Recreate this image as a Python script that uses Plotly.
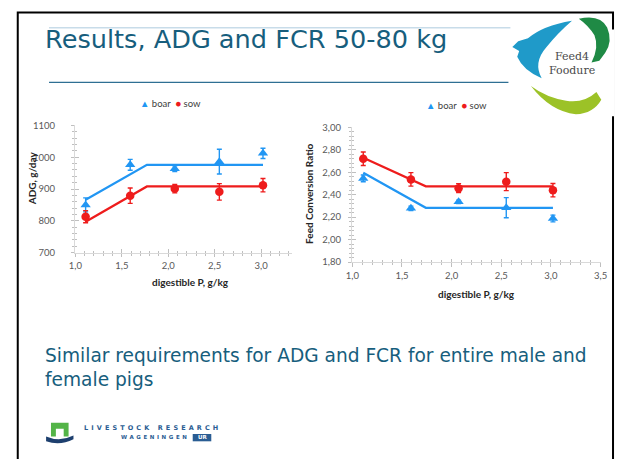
import plotly.graph_objects as go

W, H = 621, 459

# digestible P of the five diets, g/kg
p_levels = [1.11, 1.59, 2.07, 2.55, 3.02]

# average daily gain, g/day (mean and SE)
adg_boar = [850, 976, 964, 986, 1012]
adg_boar_se = [22, 17, 9, 39, 16]
adg_sow = [813, 879, 901, 891, 912]
adg_sow_se = [19, 24, 13, 26, 21]

# broken-line fit for ADG
adg_fit_p = [1.11, 1.77, 3.02]
adg_fit_boar = [866, 976, 976]
adg_fit_sow = [797, 908, 908]

# feed conversion ratio (mean and SE)
fcr_boar = [2.545, 2.278, 2.336, 2.284, 2.188]
fcr_boar_se = [0.03, 0.02, 0.015, 0.09, 0.03]
fcr_sow = [2.72, 2.536, 2.458, 2.516, 2.44]
fcr_sow_se = [0.06, 0.06, 0.04, 0.08, 0.06]

# broken-line fit for FCR
fcr_fit_p = [1.11, 1.74, 3.02]
fcr_fit_boar = [2.595, 2.283, 2.283]
fcr_fit_sow = [2.728, 2.474, 2.474]

# tick values and labels (comma decimal)
adg_x_ticks = [1.0, 1.5, 2.0, 2.5, 3.0]
adg_x_labels = ["1,0", "1,5", "2,0", "2,5", "3,0"]
adg_y_ticks = [700, 800, 900, 1000, 1100]
adg_y_labels = ["700", "800", "900", "1000", "1100"]
fcr_x_ticks = [1.0, 1.5, 2.0, 2.5, 3.0, 3.5]
fcr_x_labels = ["1,0", "1,5", "2,0", "2,5", "3,0", "3,5"]
fcr_y_ticks = [1.8, 2.0, 2.2, 2.4, 2.6, 2.8, 3.0]
fcr_y_labels = ["1,80", "2,00", "2,20", "2,40", "2,60", "2,80", "3,00"]

BLUE = "#2196f3"
RED = "#ee1c1c"
TEAL = "#175e7d"
TICK_FONT = "Liberation Sans Narrow, Lato, sans-serif"
LABEL_FONT = "Lato, sans-serif"


def fx(x):
    return x / W


def fy(y):
    return 1 - y / H


def svg_path(spec):
    """Convert a path written in pixel coordinates to paper coordinates."""
    out, toks, i = [], spec.split(), 0
    while i < len(toks):
        t = toks[i]
        if t.isalpha():
            out.append(t)
            i += 1
        else:
            out.append(f"{fx(float(t)):.5f},{fy(float(toks[i + 1])):.5f}")
            i += 2
    return " ".join(out)


fig = go.Figure()


def fit_line(xs, ys, color, xa, ya):
    fig.add_trace(go.Scatter(x=xs, y=ys, mode="lines", line=dict(color=color, width=2.2),
                             xaxis=xa, yaxis=ya, showlegend=False, hoverinfo="skip"))


def means(xs, ys, se, color, symbol, size, name, xa, ya):
    fig.add_trace(go.Scatter(x=xs, y=ys, mode="markers", name=name,
                             marker=dict(symbol=symbol, size=size, color=color),
                             error_y=dict(type="data", array=se, color=color, thickness=1.4, width=2.5),
                             xaxis=xa, yaxis=ya, showlegend=False))


fit_line(adg_fit_p, adg_fit_boar, BLUE, "x", "y")
fit_line(adg_fit_p, adg_fit_sow, RED, "x", "y")
means(p_levels, adg_boar, adg_boar_se, BLUE, "triangle-up", 9, "boar", "x", "y")
means(p_levels, adg_sow, adg_sow_se, RED, "circle", 8.5, "sow", "x", "y")

fit_line(fcr_fit_p, fcr_fit_boar, BLUE, "x2", "y2")
fit_line(fcr_fit_p, fcr_fit_sow, RED, "x2", "y2")
means(p_levels, fcr_boar, fcr_boar_se, BLUE, "triangle-up", 9, "boar", "x2", "y2")
means(p_levels, fcr_sow, fcr_sow_se, RED, "circle", 8.5, "sow", "x2", "y2")

# empty traces carrying the overlay axes that draw the inner half of the crossing ticks
for xa, ya in (("x3", "y3"), ("x4", "y4")):
    fig.add_trace(go.Scatter(x=[None], y=[None], xaxis=xa, yaxis=ya, showlegend=False, hoverinfo="skip"))

tick_col = "#bfbfbf"
base = dict(showgrid=False, zeroline=False, tickmode="array", tickcolor=tick_col, tickwidth=1,
            tickfont=dict(family=TICK_FONT, size=9.5, color="#595959"), fixedrange=True)


def main_axis(ticks, labels, rng, dom, anchor, tick0, minor_dt, standoff):
    return dict(base, domain=dom, range=rng, anchor=anchor, tickvals=ticks, ticktext=labels,
                showline=True, linecolor="#d9d9d9", linewidth=1, ticks="outside", ticklen=3.5,
                ticklabelstandoff=standoff,
                minor=dict(tickmode="linear", tick0=tick0, dtick=minor_dt, ticks="outside",
                           ticklen=2, tickcolor=tick_col))


def inner_axis(ticks, rng, over, anchor, tick0, minor_dt):
    return dict(base, overlaying=over, range=rng, anchor=anchor, tickvals=ticks,
                showline=False, showticklabels=False, ticks="inside", ticklen=3.5,
                minor=dict(tickmode="linear", tick0=tick0, dtick=minor_dt, ticks="inside",
                           ticklen=2, tickcolor=tick_col))


adg_xr = [1.0, 3.337]
adg_yr = [700, 1100]
fcr_xr = [1.0, 3.5]
fcr_yr = [1.8, 3.0]
adg_xdom = [fx(70), fx(292)]
adg_ydom = [fy(252.7), fy(122.3)]
fcr_xdom = [fx(353.3), fx(607.3)]
fcr_ydom = [fy(262.3), fy(124.3)]

fig.update_layout(
    xaxis=main_axis(adg_x_ticks, adg_x_labels, adg_xr, adg_xdom, "y", 1.0, 0.1, 0),
    yaxis=main_axis(adg_y_ticks, adg_y_labels, adg_yr, adg_ydom, "x", 700, 20, 14),
    xaxis2=main_axis(fcr_x_ticks, fcr_x_labels, fcr_xr, fcr_xdom, "y2", 1.0, 0.1, 1),
    yaxis2=main_axis(fcr_y_ticks, fcr_y_labels, fcr_yr, fcr_ydom, "x2", 1.8, 0.04, 5),
    xaxis3=inner_axis(adg_x_ticks, adg_xr, "x", "y3", 1.0, 0.1),
    yaxis3=inner_axis(adg_y_ticks, adg_yr, "y", "x3", 700, 20),
    xaxis4=inner_axis(fcr_x_ticks, fcr_xr, "x2", "y4", 1.0, 0.1),
    yaxis4=inner_axis(fcr_y_ticks, fcr_yr, "y2", "x4", 1.8, 0.04),
)

annotations = []


def text(x, y, s, size, color, family, xanchor="center", yanchor="middle", angle=0, align="left"):
    annotations.append(dict(x=fx(x), y=fy(y), xref="paper", yref="paper", text=s, showarrow=False,
                            xanchor=xanchor, yanchor=yanchor, textangle=angle, align=align,
                            font=dict(size=size, color=color, family=family)))


# slide title and closing statement
text(37, 34, "Results, ADG and FCR 50-80 kg", 25.6, TEAL, "DejaVu Sans", xanchor="left")
text(37, 370, "Similar requirements for ADG and FCR for entire male and<br>female pigs",
     18.6, TEAL, "DejaVu Sans", xanchor="left")

# axis titles
title_col = "#262626"
text(188, 283, "<b>digestible P, g/kg</b>", 10, title_col, LABEL_FONT)
text(25, 176, "<b>ADG, g/day</b>", 10, title_col, LABEL_FONT, angle=-90)
text(480, 295, "<b>digestible P, g/kg</b>", 10, title_col, LABEL_FONT)
text(309.5, 193, "<b>Feed Conversion Ratio</b>", 10, title_col, LABEL_FONT, angle=-90)

# series keys above each panel
key = (f'<span style="color:{BLUE}">▲</span> boar  '
       f'<span style="color:{RED}">●</span> sow')
text(167, 100, key, 9.5, "#404040", LABEL_FONT)
text(460, 102, key, 9.5, "#404040", LABEL_FONT)

# Livestock Research wordmark
text(77, 432, '<b><span style="letter-spacing:3.1px">LIVESTOCK RESEARCH</span></b>', 6.5, "#2a5d93",
     "DejaVu Sans", xanchor="left")
text(188, 442, '<b><span style="letter-spacing:2.6px">WAGENINGEN</span></b>', 5.5, "#2a5d93",
     "DejaVu Sans", xanchor="right")
text(199.5, 442, "<b>UR</b>", 5.5, "white", "DejaVu Sans")

# Feed4Foodure wordmark
text(578, 52, "Feed4", 11, "#4a4a4a", "DejaVu Serif")
text(578, 66, "Foodure", 11, "#4a4a4a", "DejaVu Serif")
fig.update_layout(annotations=annotations)

shapes = [
    # slide frame
    dict(type="rect", xref="paper", yref="paper", x0=fx(11), x1=fx(620), y0=fy(6.7), y1=fy(480),
         line=dict(color="black", width=2), layer="below"),
    # rules around the title
    dict(type="line", xref="paper", yref="paper", x0=fx(43), x1=fx(515), y0=fy(22.3), y1=fy(22.3),
         line=dict(color="#c8dce9", width=1.3)),
    dict(type="line", xref="paper", yref="paper", x0=fx(43), x1=fx(515), y0=fy(78.3), y1=fy(78.3),
         line=dict(color="#2e6f93", width=1.3)),
    # Feed4Foodure emblem
    dict(type="rect", xref="paper", yref="paper", x0=fx(513), x1=fx(621), y0=fy(24), y1=fy(113),
         fillcolor="white", line=dict(width=0)),
    dict(type="path", xref="paper", yref="paper", fillcolor="#1f9ac9", line=dict(width=0),
         path=svg_path("M 578 15 Q 548 20 533 33 L 523 36 L 517 42 L 524 46 L 522 52 "
                       "Q 528 66 547 74 Q 538 58 552 42 Q 563 28 578 15 Z")),
    dict(type="path", xref="paper", yref="paper", fillcolor="#1f8a45", line=dict(width=0),
         path=svg_path("M 585 13 Q 607 8 614 22 Q 620 36 612 48 L 606 56 L 598 58 "
                       "Q 606 42 601 30 Q 595 20 585 13 Z")),
    dict(type="path", xref="paper", yref="paper", fillcolor="#9cc227", line=dict(width=0),
         path=svg_path("M 536 82 Q 556 108 582 111 Q 600 110 608 96 L 603 88 "
                       "Q 590 100 572 97 Q 552 94 536 82 Z")),
    # Livestock Research emblem
    dict(type="path", xref="paper", yref="paper", fillcolor="#53b447", line=dict(width=0),
         path=svg_path("M 45 427 L 63 427 L 63 441 L 58 441 L 58 433 L 50 433 L 50 441 L 45 441 Z")),
    dict(type="path", xref="paper", yref="paper", fillcolor="#1d3f6e", line=dict(width=0),
         path=svg_path("M 40 441 Q 54 447 68 440 L 68 444 Q 54 451 40 446 Z")),
    dict(type="rect", xref="paper", yref="paper", x0=fx(190), x1=fx(209), y0=fy(446), y1=fy(438.5),
         fillcolor="#2a5d93", line=dict(width=0), layer="below"),
]
fig.update_layout(shapes=shapes)

fig.update_layout(width=W, height=H, margin=dict(l=0, r=0, t=0, b=0),
                  paper_bgcolor="white", plot_bgcolor="rgba(0,0,0,0)", showlegend=False)

fig.write_html("out.html", config={"displayModeBar": False})
